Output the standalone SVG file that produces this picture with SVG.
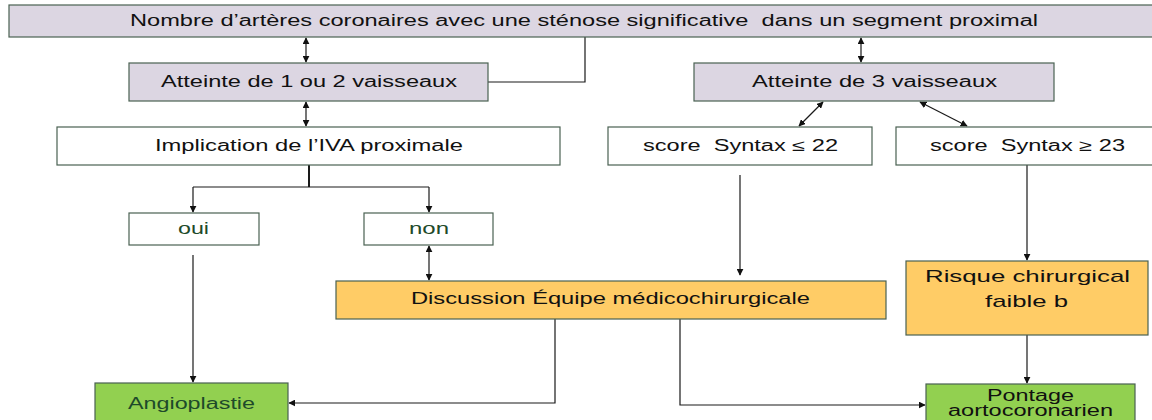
<svg xmlns="http://www.w3.org/2000/svg" width="1152" height="420" viewBox="0 0 1152 420">
  <style>
    .box { stroke: #4a6152; stroke-width: 1.2; }
    .lav { fill: #dcd6e2; }
    .wht { fill: #ffffff; }
    .org { fill: #ffcc66; }
    .grn { fill: #92d050; }
    text { font-family: "Liberation Sans", Arial, sans-serif; font-size: 16px; fill: #111; text-anchor: middle; }
    text.g { fill: #1e4a2a; }
    text.big { font-size: 17px; }
    .ln { fill: none; stroke: #1a1a1a; stroke-width: 1.2; }
  </style>
  <defs>
    <marker id="ah" viewBox="0 0 10 10" refX="9" refY="5" markerWidth="7" markerHeight="7" markerUnits="userSpaceOnUse" orient="auto-start-reverse">
      <path d="M0,0 L10,5 L0,10 z" fill="#111"/>
    </marker>
  </defs>
  <rect x="0" y="0" width="1152" height="420" fill="#ffffff"/>

  <g id="connectors">
    <path class="ln" d="M306,38 V62" marker-start="url(#ah)" marker-end="url(#ah)"/>
    <path class="ln" d="M861,38 V62" marker-start="url(#ah)" marker-end="url(#ah)"/>
    <path class="ln" d="M488,82 H585 V37"/>
    <path class="ln" d="M306,102 V126" marker-start="url(#ah)" marker-end="url(#ah)"/>
    <path class="ln" d="M823,102 L799,126" marker-start="url(#ah)" marker-end="url(#ah)"/>
    <path class="ln" d="M920,102 L967,126" marker-start="url(#ah)" marker-end="url(#ah)"/>
    <path class="ln" d="M309,165 V187" style="stroke-width:2"/>
    <path class="ln" d="M193,187 H429"/>
    <path class="ln" d="M193,187 V212" marker-end="url(#ah)"/>
    <path class="ln" d="M429,187 V212" marker-end="url(#ah)"/>
    <path class="ln" d="M429,246 V280" marker-start="url(#ah)" marker-end="url(#ah)"/>
    <path class="ln" d="M740,175 V275" marker-end="url(#ah)"/>
    <path class="ln" d="M1027,165 V260" marker-end="url(#ah)"/>
    <path class="ln" d="M193,255 V382" marker-end="url(#ah)"/>
    <path class="ln" d="M555,319 V403 H289" marker-end="url(#ah)"/>
    <path class="ln" d="M680,319 V405 H925" marker-end="url(#ah)"/>
    <path class="ln" d="M1027,335 V383" marker-end="url(#ah)"/>
  </g>

  <g id="n-nombre">
    <rect class="box lav" x="9" y="5" width="1150" height="32"/>
    <text x="584" y="26" textLength="908" lengthAdjust="spacingAndGlyphs" xml:space="preserve">Nombre d’artères coronaires avec une sténose significative  dans un segment proximal</text>
  </g>
  <g id="n-atteinte12">
    <rect class="box lav" x="129" y="63" width="359" height="38"/>
    <text x="309" y="87" textLength="296" lengthAdjust="spacingAndGlyphs">Atteinte de 1 ou 2 vaisseaux</text>
  </g>
  <g id="n-atteinte3">
    <rect class="box lav" x="694" y="63" width="360" height="38"/>
    <text x="874.5" y="87" textLength="245" lengthAdjust="spacingAndGlyphs">Atteinte de 3 vaisseaux</text>
  </g>
  <g id="n-iva">
    <rect class="box wht" x="57" y="127" width="503" height="38"/>
    <text x="309" y="151" textLength="308" lengthAdjust="spacingAndGlyphs">Implication de l’IVA proximale</text>
  </g>
  <g id="n-syntax22">
    <rect class="box wht" x="608" y="127" width="264" height="38"/>
    <text x="740.5" y="151" textLength="195" lengthAdjust="spacingAndGlyphs" xml:space="preserve">score  Syntax ≤ 22</text>
  </g>
  <g id="n-syntax23">
    <rect class="box wht" x="896" y="127" width="260" height="38"/>
    <text x="1027.5" y="151" textLength="195" lengthAdjust="spacingAndGlyphs" xml:space="preserve">score  Syntax ≥ 23</text>
  </g>
  <g id="n-oui">
    <rect class="box wht" x="129" y="213" width="130" height="32"/>
    <text class="g" x="193.5" y="234" textLength="31" lengthAdjust="spacingAndGlyphs">oui</text>
  </g>
  <g id="n-non">
    <rect class="box wht" x="364" y="213" width="129" height="32"/>
    <text class="g" x="429" y="234" textLength="40" lengthAdjust="spacingAndGlyphs">non</text>
  </g>
  <g id="n-discussion">
    <rect class="box org" x="336" y="281" width="550" height="38"/>
    <text x="610.5" y="304" textLength="399" lengthAdjust="spacingAndGlyphs">Discussion Équipe médicochirurgicale</text>
  </g>
  <g id="n-risque">
    <rect class="box org" x="906" y="261" width="242" height="74"/>
    <text class="big" x="1027.5" y="282" textLength="205" lengthAdjust="spacingAndGlyphs">Risque chirurgical</text>
    <text class="big" x="1026.5" y="307" textLength="83" lengthAdjust="spacingAndGlyphs">faible b</text>
  </g>
  <g id="n-angioplastie">
    <rect class="box grn" x="95" y="383" width="193" height="42"/>
    <text class="g" x="191.5" y="409" textLength="127" lengthAdjust="spacingAndGlyphs">Angioplastie</text>
  </g>
  <g id="n-pontage">
    <rect class="box grn" x="926" y="384" width="209" height="42"/>
    <text x="1030.5" y="401" textLength="87" lengthAdjust="spacingAndGlyphs">Pontage</text>
    <text x="1030.5" y="416" textLength="165" lengthAdjust="spacingAndGlyphs">aortocoronarien</text>
  </g>
</svg>
